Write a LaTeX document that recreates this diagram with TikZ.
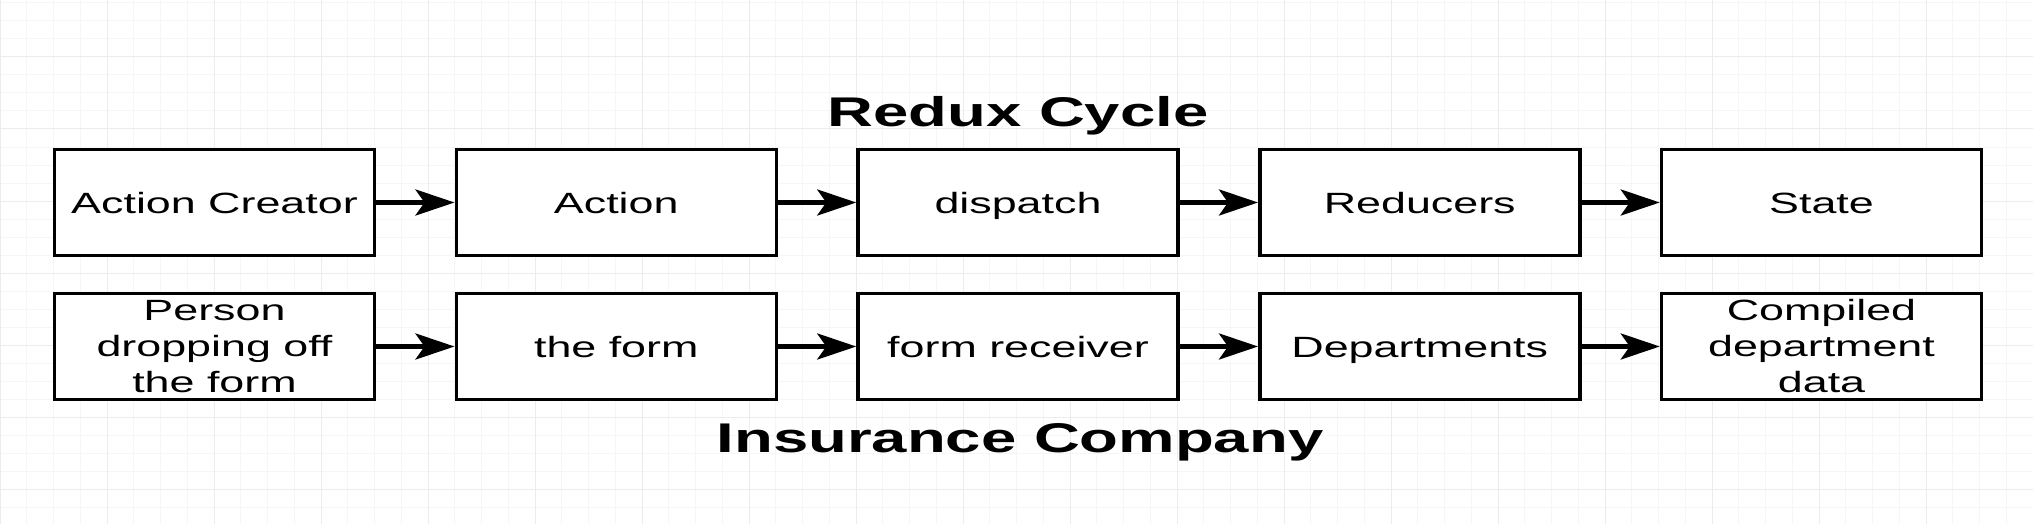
\documentclass[tikz,border=0pt]{standalone}
\usepackage{fontspec}
\setmainfont{Liberation Sans}
\newfontfamily\wideface[FakeStretch=1.53]{Liberation Sans}
\usetikzlibrary{arrows.meta}

\definecolor{gridminor}{RGB}{246,246,246}
\definecolor{gridmajor}{RGB}{236,236,236}

\tikzset{
  stage/.style={draw=black, line width=3.5pt, fill=white, minimum width=320pt, minimum height=106pt,
    inner sep=0pt, align=center, font=\wideface\fontsize{29.3}{36}\selectfont},
  oneline/.style={text height=21pt, text depth=0pt},
  flow/.style={line width=4.5pt, -{Stealth[length=39pt,width=26pt,inset=9pt]}},
  heading/.style={font=\wideface\bfseries\fontsize{41.5}{48}\selectfont, inner sep=0pt, anchor=base},
}

\begin{document}
\begin{tikzpicture}[x=1pt,y=1pt,yscale=-1,xscale=1]
%set diagram left start at 0, and has height of 524
\useasboundingbox (0,0) rectangle (2033,524);
\fill[white] (0,0) rectangle (2033,524);

%Grid: minor lines
\foreach \i in {0,...,76} {\draw[gridminor, line width=1pt] (26.75*\i,0) -- (26.75*\i,524);}
\foreach \j in {0,...,29} {\draw[gridminor, line width=1pt] (0,3+18*\j) -- (2033,3+18*\j);}
%Grid: major lines
\foreach \i in {0,...,19} {\draw[gridmajor, line width=1pt] (107*\i,0) -- (107*\i,524);}
\foreach \j in {0,...,6} {\draw[gridmajor, line width=1pt] (0,57+72*\j) -- (2033,57+72*\j);}

% Text Node
\node[heading] (redux) at (1018,127) {Redux Cycle};

%Shape: Rectangle row 1
\node[stage, oneline] (creator) at (214.5,202.5) {Action Creator};
\node[stage, oneline] (action) at (616.25,202.5) {Action};
\node[stage, oneline] (dispatch) at (1018,202.5) {dispatch};
\node[stage, oneline] (reducers) at (1419.75,202.5) {Reducers};
\node[stage, oneline] (state) at (1821.5,202.5) {State};

%Shape: Rectangle row 2
\node[stage] (person) at (214.5,346.5) {Person\\dropping off\\the form};
\node[stage, oneline] (form) at (616.25,346.5) {the form};
\node[stage, oneline] (receiver) at (1018,346.5) {form receiver};
\node[stage, oneline] (departments) at (1419.75,346.5) {Departments};
\node[stage] (compiled) at (1821.5,346.5) {Compiled\\department\\data};

% Text Node
\node[heading] (insurance) at (1020,452) {Insurance Company};

%Straight Lines row 1
\draw[flow] (creator) -- (action);
\draw[flow] (action) -- (dispatch);
\draw[flow] (dispatch) -- (reducers);
\draw[flow] (reducers) -- (state);

%Straight Lines row 2
\draw[flow] (person) -- (form);
\draw[flow] (form) -- (receiver);
\draw[flow] (receiver) -- (departments);
\draw[flow] (departments) -- (compiled);

\end{tikzpicture}
\end{document}
